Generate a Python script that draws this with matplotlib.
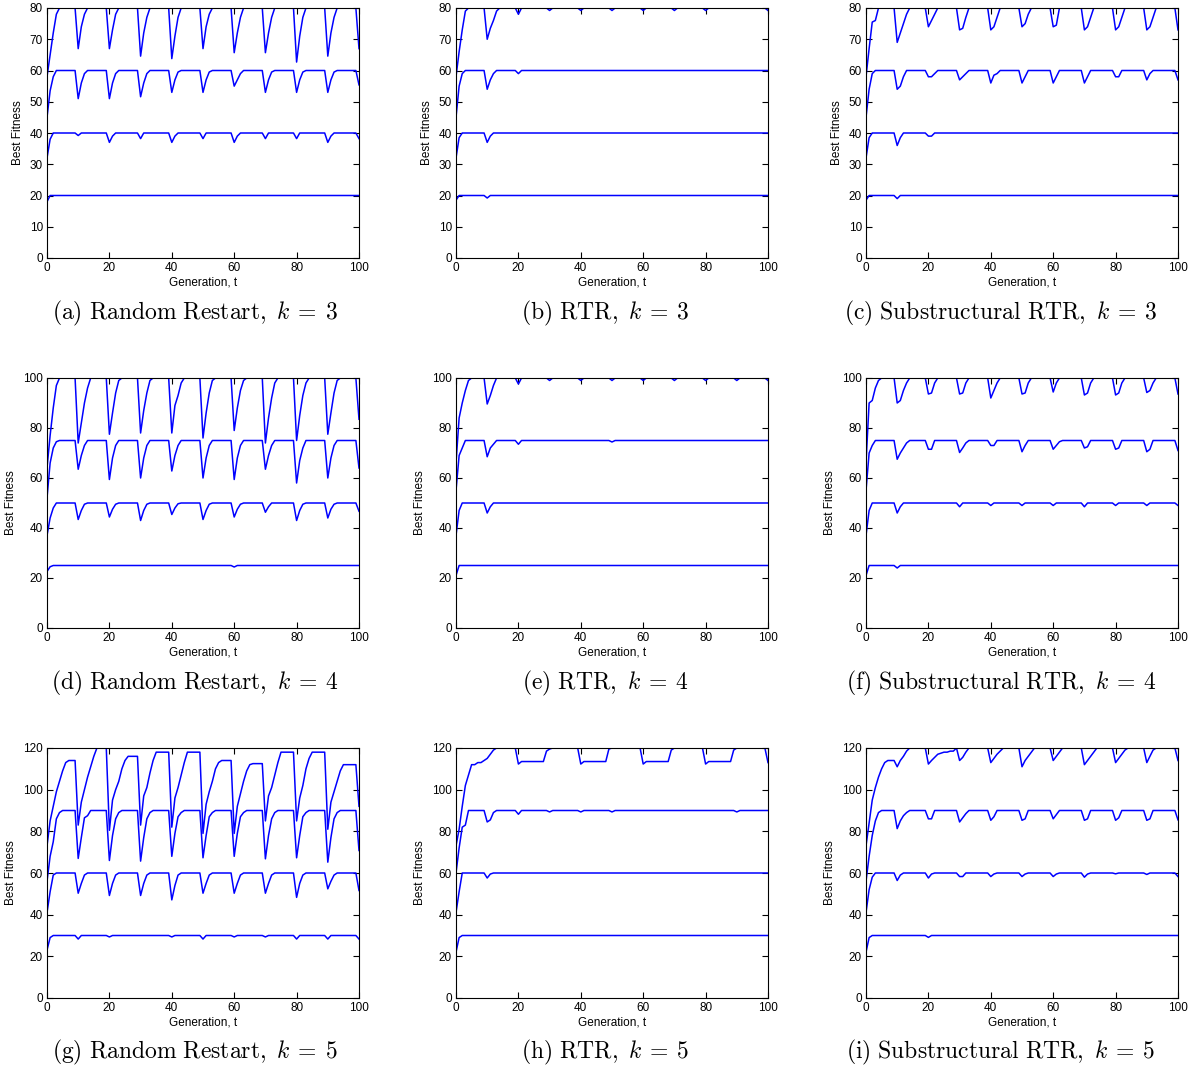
import matplotlib
matplotlib.use("Agg")
import matplotlib.pyplot as plt

plt.rcParams['font.family'] = 'Liberation Sans'
plt.rcParams['mathtext.fontset'] = 'cm'

# ---- data: per panel, for each line (low -> high): plateau, start values (t=0,1,...),
# ---- and values after each restart {generation: [values from that generation on]}

# (a) Random Restart, k=3
a_plateau = [20, 40, 60, 80]
a_start = [[18, 20], [32, 38, 40], [45, 53.5, 58, 60], [58, 65, 72, 78, 80]]
a_dips = [
    {},
    {10: [39.2, 40], 20: [37, 39, 40], 30: [38.2, 40], 40: [37, 39, 40], 50: [38.2, 40],
     60: [37, 39, 40], 70: [38.2, 40], 80: [38.2, 40], 90: [37, 39, 40], 100: [38.2]},
    {10: [51, 56, 59, 60], 20: [51, 56, 59, 60], 30: [51.6, 56, 59, 60], 40: [53, 57, 59.5, 60],
     50: [53, 57, 59.5, 60], 60: [55, 57, 59, 60], 70: [53, 57, 59.5, 60], 80: [53, 57, 59.5, 60],
     90: [53, 57, 59.5, 60], 100: [55.4]},
    {10: [67, 74, 78, 80], 20: [67, 73, 78, 80], 30: [64.6, 72, 77, 80], 40: [63.8, 71, 77, 80],
     50: [67, 74, 78, 80], 60: [65.7, 72, 77, 80], 70: [65.7, 72, 77, 80], 80: [62.7, 71, 77, 80],
     90: [64.6, 72, 77, 80], 100: [67]},
]

# (b) RTR, k=3
b_plateau = [20, 40, 60, 80]
b_start = [[18.5, 20], [32, 38.5, 40], [45, 55, 59, 60], [58, 66, 73, 79, 80]]
b_dips = [
    {10: [19.2, 20]},
    {10: [37, 39, 40]},
    {10: [54, 57, 59, 60], 20: [59, 60]},
    {10: [70, 73.5, 76, 79, 80], 20: [78, 80], 30: [79.2, 80], 40: [79.2, 80], 50: [79.2, 80],
     60: [79.2, 80], 70: [79.2, 80], 80: [79.2, 80], 100: [79.2]},
]

# (c) Substructural RTR, k=3
c_plateau = [20, 40, 60, 80]
c_start = [[18.5, 20], [32, 38.5, 40], [45, 54, 59, 60], [58, 67, 75.5, 76, 80]]
c_dips = [
    {10: [19, 20]},
    {10: [36, 38.5, 40], 20: [39, 39, 40]},
    {10: [54, 55, 58, 60], 20: [58, 58, 59, 60], 30: [57, 58, 59, 60], 40: [56, 58.5, 59, 60],
     50: [56, 58, 60], 60: [56, 58, 60], 70: [56, 58, 60], 80: [58, 58, 60], 90: [57, 59, 60],
     100: [57]},
    {10: [69, 72, 75, 78, 80], 20: [74, 76, 78, 80], 30: [73, 73.5, 77, 80], 40: [73, 74, 77, 80],
     50: [74, 75, 78, 80], 60: [74, 74.5, 80], 70: [73, 74, 77, 80], 80: [73, 74, 77, 80],
     90: [73, 74, 77, 80], 100: [73]},
]

# (d) Random Restart, k=4
d_plateau = [25, 50, 75, 100]
d_start = [[22.6, 24.5, 25], [37, 44, 48, 50], [52, 66, 72, 74.5, 75], [64, 77, 88, 97, 100]]
d_dips = [
    {60: [24.4, 25]},
    {10: [43.4, 47, 49.5, 50], 20: [44.4, 47.5, 49.5, 50], 30: [43, 47, 49.5, 50],
     40: [45.4, 48, 49.7, 50], 50: [43.4, 47, 49.5, 50], 60: [44.4, 47.5, 49.5, 50],
     70: [46.3, 48.5, 50], 80: [43, 47, 49.5, 50], 90: [44, 47.5, 49.5, 50], 100: [46.7]},
    {10: [63.5, 69, 73, 75], 20: [59.4, 68, 73, 75], 30: [60, 68, 73, 75], 40: [62.8, 69, 73, 75],
     50: [60, 68, 73, 75], 60: [59.4, 68, 73, 75], 70: [63.5, 69, 73, 75], 80: [58, 67, 72, 75],
     90: [60, 68, 73, 75], 100: [64]},
    {10: [74, 82, 90, 96, 100], 20: [77.5, 86, 94, 99, 100], 30: [78, 87, 94, 99, 100],
     40: [78, 89, 93, 98, 100], 50: [76, 86, 94, 99, 100], 60: [79, 88, 95, 99, 100],
     70: [74, 84, 92, 98, 100], 80: [75, 85, 93, 98, 100], 90: [77.5, 86, 94, 99, 100],
     100: [83.5]},
]

# (e) RTR, k=4
e_plateau = [25, 50, 75, 100]
e_start = [[21, 25], [37, 47, 50], [55, 69, 72, 75], [66, 84, 90, 95, 99, 100]]
e_dips = [
    {},
    {10: [46, 48.5, 50]},
    {10: [68.5, 72, 73.5, 75], 20: [73.5, 75], 50: [74.4, 75]},
    {10: [89.6, 93, 97, 100], 20: [97.6, 100], 30: [99, 100], 40: [99, 100], 50: [99, 100],
     60: [99, 100], 70: [99, 100], 80: [99, 100], 90: [99, 100], 100: [99]},
]

# (f) Substructural RTR, k=4
f_plateau = [25, 50, 75, 100]
f_start = [[21, 25], [37, 47, 50], [55, 70, 73, 75], [66, 90, 91, 96, 99, 100]]
f_dips = [
    {10: [24, 25]},
    {10: [46, 48.5, 50], 30: [48.5, 50], 40: [49, 50], 50: [49, 50], 60: [49, 50],
     70: [48.5, 50], 80: [49, 50], 90: [49, 50], 100: [49]},
    {10: [67.5, 70, 72, 74, 75], 20: [71.5, 71.5, 75], 30: [70.2, 72, 74, 75], 40: [73, 73, 75],
     50: [70.5, 73, 75], 60: [71.5, 73, 74.5, 75], 70: [72, 72.5, 75], 80: [71.5, 72, 75],
     90: [70.5, 71.5, 75], 100: [71]},
    {10: [90, 91, 95, 98, 100], 20: [93.6, 94, 98, 100], 30: [93.6, 94, 98, 100],
     40: [92, 95, 98, 100], 50: [93.6, 94, 98, 100], 60: [94.4, 98, 100], 70: [93.2, 94, 98, 100],
     80: [93.2, 94, 98, 100], 90: [94.2, 95, 98, 100], 100: [93.6]},
]

# (g) Random Restart, k=5
g_plateau = [30, 60, 90, 120]
g_start = [[23, 29, 30], [41, 51, 59, 60], [56, 68, 75, 86, 89, 90],
           [73, 85, 92, 99, 104, 109, 113, 114, 114, 114]]
g_dips = [
    {10: [28.3, 30], 20: [29.3, 30], 40: [29.3, 30], 50: [28.3, 30], 60: [29.3, 30],
     70: [29.3, 30], 80: [28.3, 30], 90: [28.3, 30], 100: [28.3]},
    {10: [50.3, 55, 59, 60], 20: [49.2, 55, 59, 60], 30: [49.2, 55, 59, 60], 40: [47.1, 54, 59, 60],
     50: [50.3, 55, 59, 60], 60: [50.3, 55, 59, 60], 70: [50.3, 55, 59, 60], 80: [48.3, 55, 59, 60],
     90: [52.4, 56, 59, 60], 100: [51.6]},
    {10: [67, 77, 86.5, 87.5, 90], 20: [66, 78, 86, 89, 90], 30: [65.7, 77, 86, 89, 90],
     40: [68, 79, 87, 89, 90], 50: [67.3, 78, 87, 89, 90], 60: [68, 79, 87, 89, 90],
     70: [66.8, 78, 86, 89, 90], 80: [67.3, 78, 87, 89, 90], 90: [65.2, 77, 86, 89, 90],
     100: [70.8]},
    {10: [83, 94, 100, 106, 111, 116, 120, 120, 120, 120],
     20: [80.5, 95, 100, 104, 110, 114, 116, 116, 116, 116],
     30: [83, 97, 101, 108, 114, 118, 118, 118, 118, 118],
     40: [82, 96, 101, 107, 113, 118, 118, 118, 118, 118],
     50: [79, 93, 99, 104, 110, 113, 114, 114, 114, 114],
     60: [79, 92, 98, 104, 109, 112, 112.5, 112.5, 112.5, 112.5],
     70: [85, 97, 101, 107, 113, 118, 118, 118, 118, 118],
     80: [85, 96, 102, 110, 115, 118, 118, 118, 118, 118],
     90: [81, 94, 99, 104, 109, 112, 112, 112, 112, 112],
     100: [92]},
]

# (h) RTR, k=5
h_plateau = [30, 60, 90, 120]
h_start = [[22, 29, 30], [41, 51, 60], [60, 72, 82, 83, 90],
           [73, 81, 92, 102, 107, 112, 112, 113, 113, 114, 115, 117, 119, 120]]
h_dips = [
    {},
    {10: [57.6, 59.5, 60]},
    {10: [84.5, 85.5, 89, 90], 20: [88.2, 90], 30: [89.3, 90], 40: [89.3, 90], 50: [89.3, 90],
     90: [89.3, 90]},
    {20: [112.3, 113.5, 113.5, 113.5, 113.5, 113.5, 113.5, 113.5, 113.5, 118.5, 119.5, 120],
     40: [112.3, 113.5, 113.5, 113.5, 113.5, 113.5, 113.5, 113.5, 113.5, 119.5, 120],
     60: [112.3, 113.5, 113.5, 113.5, 113.5, 113.5, 113.5, 113.5, 113.5, 119, 120],
     80: [112.3, 113.5, 113.5, 113.5, 113.5, 113.5, 113.5, 113.5, 113.5, 119, 120],
     100: [113]},
]

# (i) Substructural RTR, k=5
i_plateau = [30, 60, 90, 120]
i_start = [[22, 29, 30], [41, 52, 58, 60], [56, 68, 78, 85, 89, 90],
           [73, 84, 95, 101, 106, 110, 113, 114, 114, 114, 111, 114, 116, 118.5, 120]]
i_dips = [
    {20: [29.1, 30]},
    {10: [56.4, 59, 60], 20: [57.6, 59.5, 60], 30: [58.3, 58.3, 60], 40: [58.3, 59.5, 60],
     50: [58.3, 59.5, 60], 60: [58.3, 59.5, 60], 70: [58, 59.5, 60], 80: [59.6, 60],
     90: [59.3, 60], 100: [58.3]},
    {10: [81.3, 85, 87.5, 89, 90], 20: [86, 86, 90], 30: [84.5, 86.5, 88.5, 90],
     40: [85.3, 87, 90], 50: [85.3, 86, 90], 60: [86, 88, 90], 70: [85.3, 86, 90],
     80: [85.3, 86.5, 90], 90: [85.3, 86, 90], 100: [85.5]},
    {20: [112.3, 114, 115.5, 117, 117.5, 118, 118, 118.5, 118.5, 120],
     30: [114, 115.5, 118, 120], 40: [113, 115, 117, 118.5, 120],
     50: [111, 114, 116, 118, 120], 60: [114, 116, 118, 120],
     70: [112, 114, 116, 118, 120], 80: [113, 115, 117, 119, 120],
     90: [113, 116, 119, 120], 100: [114]},
]

captions = [r'$\mathrm{(a)\ Random\ Restart,}\ k\:=\:3$', r'$\mathrm{(b)\ RTR,}\ k\:=\:3$',
            r'$\mathrm{(c)\ Substructural\ RTR,}\ k\:=\:3$',
            r'$\mathrm{(d)\ Random\ Restart,}\ k\:=\:4$', r'$\mathrm{(e)\ RTR,}\ k\:=\:4$',
            r'$\mathrm{(f)\ Substructural\ RTR,}\ k\:=\:4$',
            r'$\mathrm{(g)\ Random\ Restart,}\ k\:=\:5$', r'$\mathrm{(h)\ RTR,}\ k\:=\:5$',
            r'$\mathrm{(i)\ Substructural\ RTR,}\ k\:=\:5$']
ymax = [80, 100, 120]
ystep = [10, 20, 20]

panels = [(a_plateau, a_start, a_dips), (b_plateau, b_start, b_dips), (c_plateau, c_start, c_dips),
          (d_plateau, d_start, d_dips), (e_plateau, e_start, e_dips), (f_plateau, f_start, f_dips),
          (g_plateau, g_start, g_dips), (h_plateau, h_start, h_dips), (i_plateau, i_start, i_dips)]


def vertices(plateau, start, dips):
    t = list(range(len(start)))
    v = list(start)
    for gen in sorted(dips):
        if t[-1] < gen - 1:
            t.append(gen - 1)
            v.append(plateau)
        for j, val in enumerate(dips[gen]):
            t.append(gen + j)
            v.append(val)
    if t[-1] < 100:
        t.append(100)
        v.append(plateau)
    return t, v


W, H = 1194, 1068
fig = plt.figure(figsize=(W / 100, H / 100), dpi=100)

col_left = [47, 456, 866]
row_top = [8, 378, 748]
cap_x = [195, 605, 1001]
cap_y = [313, 683, 1052]

for n, (plat, start, dips) in enumerate(panels):
    r, c = divmod(n, 3)
    ax = fig.add_axes([col_left[c] / W, 1 - (row_top[r] + 250) / H, 312 / W, 250 / H])
    for p, s, d in zip(plat, start, dips):
        t, v = vertices(p, s, d)
        ax.plot(t, v, color='#0000ff', lw=1.1)
    ax.set_xlim(0, 100)
    ax.set_ylim(0, ymax[r])
    ax.set_xticks(range(0, 101, 20))
    ax.set_yticks(range(0, ymax[r] + 1, ystep[r]))
    ax.tick_params(direction='in', top=True, right=True, length=4, width=0.8,
                   labelsize=8.5, pad=3)
    for sp in ax.spines.values():
        sp.set_linewidth(0.8)
    ax.set_xlabel('Generation, t', fontsize=8.5, labelpad=2)
    ax.set_ylabel('Best Fitness', fontsize=8.5, labelpad=4)
    fig.text(cap_x[c] / W, 1 - cap_y[r] / H, captions[n], ha='center', va='center', fontsize=17)

fig.savefig('out.png', dpi=100)
